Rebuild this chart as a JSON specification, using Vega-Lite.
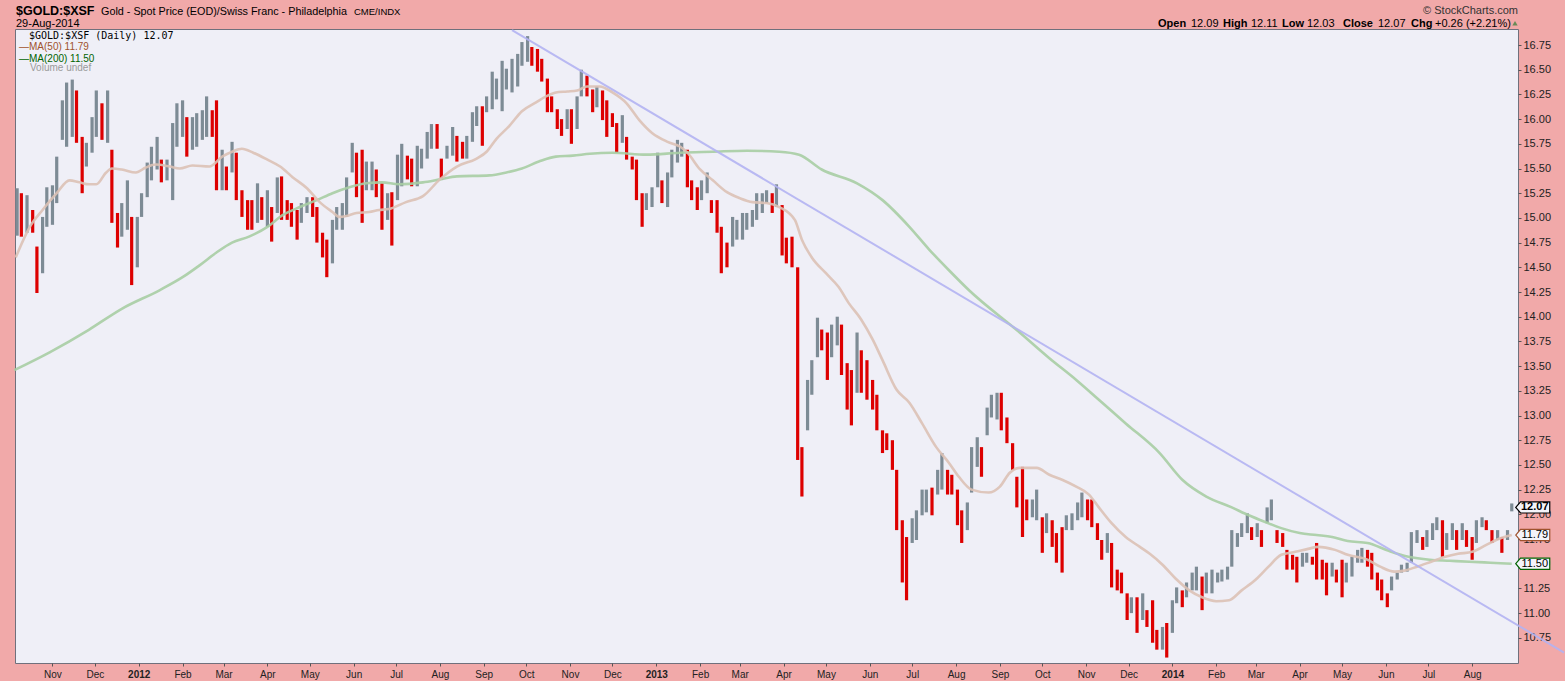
{
"$schema":"https://vega.github.io/schema/vega-lite/v6.json",
"width":1503,"height":634,
"autosize":{"type":"none"},
"padding":{"left":15,"top":29,"right":47,"bottom":18},
"background":"#F1A9A9",
"config":{"view":{"fill":"#EFEFF7","stroke":"#70707C","strokeWidth":1},"axis":{"labelOverlap":false},"axisY":{"labelOverlap":false,"tickCount":26},"text":{"font":"Liberation Sans","baseline":"alphabetic","align":"left","color":"#000"}},
"datasets":{
"px":[
{"d":"2011-10-07","lo":14.82,"hi":15.30,"c":15.06},{"d":"2011-10-10","lo":14.81,"hi":15.25,"c":15.03},{"d":"2011-10-14","lo":14.85,"hi":15.23,"c":15.04},{"d":"2011-10-18","lo":14.85,"hi":15.08,"c":14.96},{"d":"2011-10-21","lo":14.24,"hi":14.71,"c":14.47},{"d":"2011-10-25","lo":14.44,"hi":15.01,"c":14.72},{"d":"2011-10-28","lo":14.91,"hi":15.31,"c":15.11},{"d":"2011-11-01","lo":14.93,"hi":15.33,"c":15.13},{"d":"2011-11-04","lo":15.15,"hi":15.62,"c":15.38},{"d":"2011-11-08","lo":15.79,"hi":16.19,"c":15.99},
{"d":"2011-11-11","lo":15.72,"hi":16.37,"c":16.05},{"d":"2011-11-15","lo":15.82,"hi":16.40,"c":16.11},{"d":"2011-11-18","lo":15.76,"hi":16.29,"c":16.03},{"d":"2011-11-22","lo":15.25,"hi":15.82,"c":15.54},{"d":"2011-11-25","lo":15.52,"hi":15.76,"c":15.64},{"d":"2011-11-29","lo":15.66,"hi":16.02,"c":15.84},{"d":"2011-12-02","lo":15.82,"hi":16.29,"c":16.06},{"d":"2011-12-06","lo":15.79,"hi":16.16,"c":15.97},{"d":"2011-12-10","lo":15.76,"hi":16.29,"c":16.03},{"d":"2011-12-13","lo":14.95,"hi":15.69,"c":15.32},
{"d":"2011-12-17","lo":14.70,"hi":15.05,"c":14.87},{"d":"2011-12-20","lo":14.81,"hi":15.15,"c":14.98},{"d":"2011-12-24","lo":14.88,"hi":15.38,"c":15.13},{"d":"2011-12-27","lo":14.32,"hi":15.01,"c":14.66},{"d":"2011-12-31","lo":14.50,"hi":15.01,"c":14.75},{"d":"2012-01-03","lo":15.01,"hi":15.25,"c":15.13},{"d":"2012-01-07","lo":15.21,"hi":15.56,"c":15.38},{"d":"2012-01-10","lo":15.38,"hi":15.72,"c":15.55},{"d":"2012-01-14","lo":15.49,"hi":15.82,"c":15.66},{"d":"2012-01-17","lo":15.36,"hi":15.59,"c":15.47},
{"d":"2012-01-21","lo":15.38,"hi":15.59,"c":15.49},{"d":"2012-01-25","lo":15.18,"hi":15.96,"c":15.57},{"d":"2012-01-28","lo":15.72,"hi":16.16,"c":15.94},{"d":"2012-02-01","lo":15.82,"hi":16.19,"c":16.00},{"d":"2012-02-04","lo":15.62,"hi":16.02,"c":15.82},{"d":"2012-02-08","lo":15.69,"hi":16.02,"c":15.85},{"d":"2012-02-11","lo":15.72,"hi":16.06,"c":15.89},{"d":"2012-02-15","lo":15.79,"hi":16.09,"c":15.94},{"d":"2012-02-18","lo":15.82,"hi":16.23,"c":16.02},{"d":"2012-02-22","lo":15.82,"hi":16.09,"c":15.95},
{"d":"2012-02-25","lo":15.28,"hi":16.19,"c":15.35},{"d":"2012-02-29","lo":15.28,"hi":15.69,"c":15.48},{"d":"2012-03-03","lo":15.28,"hi":15.52,"c":15.40},{"d":"2012-03-07","lo":15.46,"hi":15.77,"c":15.61},{"d":"2012-03-10","lo":15.18,"hi":15.66,"c":15.42},{"d":"2012-03-14","lo":15.01,"hi":15.28,"c":15.14},{"d":"2012-03-18","lo":14.88,"hi":15.18,"c":15.03},{"d":"2012-03-21","lo":14.88,"hi":15.18,"c":15.02},{"d":"2012-03-25","lo":14.95,"hi":15.35,"c":15.15},{"d":"2012-03-28","lo":14.98,"hi":15.21,"c":15.09},
{"d":"2012-04-01","lo":14.91,"hi":15.28,"c":15.10},{"d":"2012-04-04","lo":14.76,"hi":15.11,"c":14.93},{"d":"2012-04-08","lo":15.05,"hi":15.41,"c":15.23},{"d":"2012-04-11","lo":14.98,"hi":15.42,"c":15.20},{"d":"2012-04-15","lo":14.98,"hi":15.18,"c":15.08},{"d":"2012-04-18","lo":14.91,"hi":15.15,"c":15.03},{"d":"2012-04-22","lo":14.78,"hi":15.08,"c":14.93},{"d":"2012-04-25","lo":14.95,"hi":15.15,"c":15.05},{"d":"2012-04-29","lo":15.05,"hi":15.21,"c":15.13},{"d":"2012-05-03","lo":15.01,"hi":15.21,"c":15.11},
{"d":"2012-05-06","lo":14.75,"hi":15.11,"c":14.93},{"d":"2012-05-10","lo":14.60,"hi":14.85,"c":14.72},{"d":"2012-05-13","lo":14.40,"hi":14.78,"c":14.59},{"d":"2012-05-17","lo":14.54,"hi":14.98,"c":14.76},{"d":"2012-05-20","lo":14.88,"hi":15.11,"c":14.99},{"d":"2012-05-24","lo":14.88,"hi":15.15,"c":15.01},{"d":"2012-05-27","lo":15.01,"hi":15.41,"c":15.21},{"d":"2012-05-31","lo":15.46,"hi":15.76,"c":15.61},{"d":"2012-06-03","lo":15.21,"hi":15.66,"c":15.43},{"d":"2012-06-07","lo":14.95,"hi":15.69,"c":15.32},
{"d":"2012-06-10","lo":15.28,"hi":15.57,"c":15.43},{"d":"2012-06-14","lo":15.28,"hi":15.57,"c":15.45},{"d":"2012-06-17","lo":15.21,"hi":15.49,"c":15.35},{"d":"2012-06-21","lo":14.88,"hi":15.35,"c":15.11},{"d":"2012-06-25","lo":14.98,"hi":15.25,"c":15.12},{"d":"2012-06-28","lo":14.72,"hi":15.26,"c":14.99},{"d":"2012-07-02","lo":15.18,"hi":15.64,"c":15.41},{"d":"2012-07-05","lo":15.32,"hi":15.75,"c":15.54},{"d":"2012-07-09","lo":15.39,"hi":15.63,"c":15.51},{"d":"2012-07-12","lo":15.32,"hi":15.60,"c":15.46},
{"d":"2012-07-16","lo":15.32,"hi":15.73,"c":15.53},{"d":"2012-07-19","lo":15.50,"hi":15.70,"c":15.60},{"d":"2012-07-23","lo":15.60,"hi":15.87,"c":15.74},{"d":"2012-07-26","lo":15.70,"hi":15.95,"c":15.83},{"d":"2012-07-30","lo":15.70,"hi":15.95,"c":15.80},{"d":"2012-08-02","lo":15.39,"hi":15.60,"c":15.49},{"d":"2012-08-06","lo":15.60,"hi":15.73,"c":15.66},{"d":"2012-08-10","lo":15.63,"hi":15.92,"c":15.78},{"d":"2012-08-13","lo":15.57,"hi":15.83,"c":15.70},{"d":"2012-08-17","lo":15.60,"hi":15.77,"c":15.68},
{"d":"2012-08-20","lo":15.60,"hi":15.83,"c":15.72},{"d":"2012-08-24","lo":15.77,"hi":16.07,"c":15.92},{"d":"2012-08-27","lo":15.93,"hi":16.13,"c":16.03},{"d":"2012-08-31","lo":15.73,"hi":16.13,"c":15.93},{"d":"2012-09-03","lo":16.07,"hi":16.23,"c":16.15},{"d":"2012-09-07","lo":16.10,"hi":16.48,"c":16.29},{"d":"2012-09-10","lo":16.20,"hi":16.41,"c":16.31},{"d":"2012-09-14","lo":16.08,"hi":16.59,"c":16.34},{"d":"2012-09-17","lo":16.30,"hi":16.51,"c":16.41},{"d":"2012-09-21","lo":16.27,"hi":16.61,"c":16.44},
{"d":"2012-09-25","lo":16.33,"hi":16.66,"c":16.50},{"d":"2012-09-28","lo":16.54,"hi":16.78,"c":16.66},{"d":"2012-10-02","lo":16.58,"hi":16.84,"c":16.71},{"d":"2012-10-05","lo":16.54,"hi":16.73,"c":16.64},{"d":"2012-10-09","lo":16.48,"hi":16.71,"c":16.60},{"d":"2012-10-12","lo":16.38,"hi":16.61,"c":16.49},{"d":"2012-10-16","lo":16.07,"hi":16.41,"c":16.24},{"d":"2012-10-19","lo":16.07,"hi":16.23,"c":16.15},{"d":"2012-10-23","lo":15.90,"hi":16.10,"c":16.00},{"d":"2012-10-26","lo":15.83,"hi":16.00,"c":15.91},
{"d":"2012-10-30","lo":15.90,"hi":16.10,"c":16.00},{"d":"2012-11-02","lo":15.75,"hi":16.10,"c":15.92},{"d":"2012-11-06","lo":15.90,"hi":16.23,"c":16.07},{"d":"2012-11-09","lo":16.23,"hi":16.50,"c":16.37},{"d":"2012-11-13","lo":16.23,"hi":16.44,"c":16.33},{"d":"2012-11-17","lo":16.07,"hi":16.30,"c":16.19},{"d":"2012-11-20","lo":16.12,"hi":16.33,"c":16.22},{"d":"2012-11-24","lo":15.99,"hi":16.29,"c":16.14},{"d":"2012-11-27","lo":15.82,"hi":16.19,"c":16.00},{"d":"2012-12-01","lo":15.92,"hi":16.06,"c":15.99},
{"d":"2012-12-04","lo":15.66,"hi":15.96,"c":15.80},{"d":"2012-12-08","lo":15.76,"hi":16.04,"c":15.90},{"d":"2012-12-11","lo":15.59,"hi":15.82,"c":15.70},{"d":"2012-12-15","lo":15.49,"hi":15.62,"c":15.55},{"d":"2012-12-18","lo":15.18,"hi":15.59,"c":15.38},{"d":"2012-12-22","lo":14.91,"hi":15.25,"c":15.08},{"d":"2012-12-25","lo":15.08,"hi":15.25,"c":15.16},{"d":"2012-12-29","lo":15.11,"hi":15.31,"c":15.21},{"d":"2013-01-02","lo":15.31,"hi":15.66,"c":15.48},{"d":"2013-01-05","lo":15.15,"hi":15.38,"c":15.26},
{"d":"2013-01-09","lo":15.11,"hi":15.46,"c":15.28},{"d":"2013-01-12","lo":15.41,"hi":15.69,"c":15.55},{"d":"2013-01-16","lo":15.56,"hi":15.79,"c":15.68},{"d":"2013-01-19","lo":15.62,"hi":15.76,"c":15.69},{"d":"2013-01-23","lo":15.31,"hi":15.69,"c":15.50},{"d":"2013-01-26","lo":15.18,"hi":15.38,"c":15.28},{"d":"2013-01-30","lo":15.08,"hi":15.31,"c":15.19},{"d":"2013-02-02","lo":15.18,"hi":15.38,"c":15.29},{"d":"2013-02-06","lo":15.25,"hi":15.46,"c":15.36},{"d":"2013-02-09","lo":15.05,"hi":15.18,"c":15.11},
{"d":"2013-02-13","lo":14.85,"hi":15.18,"c":15.01},{"d":"2013-02-16","lo":14.44,"hi":14.91,"c":14.68},{"d":"2013-02-20","lo":14.50,"hi":14.75,"c":14.62},{"d":"2013-02-24","lo":14.71,"hi":15.01,"c":14.86},{"d":"2013-02-27","lo":14.78,"hi":14.98,"c":14.88},{"d":"2013-03-03","lo":14.78,"hi":15.05,"c":14.92},{"d":"2013-03-06","lo":14.88,"hi":15.05,"c":14.96},{"d":"2013-03-10","lo":14.91,"hi":15.08,"c":15.00},{"d":"2013-03-13","lo":14.98,"hi":15.25,"c":15.12},{"d":"2013-03-17","lo":15.05,"hi":15.25,"c":15.15},
{"d":"2013-03-20","lo":15.15,"hi":15.28,"c":15.22},{"d":"2013-03-24","lo":15.05,"hi":15.25,"c":15.14},{"d":"2013-03-27","lo":15.11,"hi":15.34,"c":15.23},{"d":"2013-03-31","lo":14.62,"hi":15.13,"c":14.88},{"d":"2013-04-03","lo":14.54,"hi":14.80,"c":14.67},{"d":"2013-04-07","lo":14.50,"hi":14.81,"c":14.64},{"d":"2013-04-11","lo":12.55,"hi":14.50,"c":12.75},{"d":"2013-04-14","lo":12.18,"hi":12.68,"c":12.40},{"d":"2013-04-18","lo":12.85,"hi":13.36,"c":13.10},{"d":"2013-04-21","lo":13.21,"hi":13.56,"c":13.40},
{"d":"2013-04-25","lo":13.59,"hi":13.99,"c":13.80},{"d":"2013-04-28","lo":13.66,"hi":13.87,"c":13.76},{"d":"2013-05-02","lo":13.36,"hi":13.84,"c":13.60},{"d":"2013-05-05","lo":13.59,"hi":13.92,"c":13.76},{"d":"2013-05-09","lo":13.71,"hi":14.00,"c":13.86},{"d":"2013-05-12","lo":13.41,"hi":13.92,"c":13.66},{"d":"2013-05-16","lo":13.06,"hi":13.53,"c":13.30},{"d":"2013-05-19","lo":12.90,"hi":13.46,"c":13.18},{"d":"2013-05-23","lo":13.23,"hi":13.84,"c":13.53},{"d":"2013-05-26","lo":13.23,"hi":13.66,"c":13.45},
{"d":"2013-05-30","lo":13.16,"hi":13.56,"c":13.36},{"d":"2013-06-03","lo":13.06,"hi":13.36,"c":13.21},{"d":"2013-06-06","lo":12.85,"hi":13.21,"c":13.03},{"d":"2013-06-10","lo":12.62,"hi":12.85,"c":12.74},{"d":"2013-06-13","lo":12.65,"hi":12.82,"c":12.73},{"d":"2013-06-17","lo":12.45,"hi":12.75,"c":12.60},{"d":"2013-06-20","lo":11.84,"hi":12.45,"c":12.10},{"d":"2013-06-24","lo":11.31,"hi":11.94,"c":11.62},{"d":"2013-06-27","lo":11.13,"hi":11.77,"c":11.50},{"d":"2013-07-01","lo":11.71,"hi":11.96,"c":11.84},
{"d":"2013-07-04","lo":11.74,"hi":12.04,"c":11.88},{"d":"2013-07-08","lo":11.99,"hi":12.25,"c":12.12},{"d":"2013-07-11","lo":12.02,"hi":12.25,"c":12.14},{"d":"2013-07-15","lo":11.99,"hi":12.27,"c":12.12},{"d":"2013-07-19","lo":12.20,"hi":12.45,"c":12.33},{"d":"2013-07-22","lo":12.25,"hi":12.62,"c":12.44},{"d":"2013-07-26","lo":12.20,"hi":12.45,"c":12.32},{"d":"2013-07-29","lo":12.20,"hi":12.40,"c":12.30},{"d":"2013-08-02","lo":11.89,"hi":12.25,"c":12.07},{"d":"2013-08-05","lo":11.71,"hi":12.04,"c":11.87},
{"d":"2013-08-09","lo":11.84,"hi":12.12,"c":11.98},{"d":"2013-08-12","lo":12.22,"hi":12.68,"c":12.45},{"d":"2013-08-16","lo":12.48,"hi":12.78,"c":12.63},{"d":"2013-08-19","lo":12.38,"hi":12.68,"c":12.53},{"d":"2013-08-23","lo":12.80,"hi":13.08,"c":12.94},{"d":"2013-08-26","lo":12.98,"hi":13.21,"c":13.10},{"d":"2013-08-30","lo":12.96,"hi":13.23,"c":13.12},{"d":"2013-09-02","lo":12.85,"hi":13.23,"c":13.03},{"d":"2013-09-06","lo":12.72,"hi":12.98,"c":12.85},{"d":"2013-09-10","lo":12.45,"hi":12.72,"c":12.58},
{"d":"2013-09-13","lo":12.07,"hi":12.38,"c":12.22},{"d":"2013-09-17","lo":11.77,"hi":12.48,"c":12.12},{"d":"2013-09-20","lo":11.94,"hi":12.15,"c":12.05},{"d":"2013-09-24","lo":11.97,"hi":12.15,"c":12.07},{"d":"2013-09-27","lo":11.94,"hi":12.25,"c":12.10},{"d":"2013-10-01","lo":11.61,"hi":11.97,"c":11.79},{"d":"2013-10-04","lo":11.81,"hi":12.01,"c":11.91},{"d":"2013-10-08","lo":11.67,"hi":11.94,"c":11.80},{"d":"2013-10-11","lo":11.51,"hi":11.81,"c":11.66},{"d":"2013-10-15","lo":11.41,"hi":11.87,"c":11.62},
{"d":"2013-10-18","lo":11.84,"hi":11.99,"c":11.92},{"d":"2013-10-22","lo":11.84,"hi":12.01,"c":11.93},{"d":"2013-10-26","lo":11.94,"hi":12.12,"c":12.03},{"d":"2013-10-29","lo":11.97,"hi":12.22,"c":12.10},{"d":"2013-11-02","lo":11.94,"hi":12.15,"c":12.04},{"d":"2013-11-05","lo":11.87,"hi":12.15,"c":12.00},{"d":"2013-11-09","lo":11.74,"hi":11.91,"c":11.82},{"d":"2013-11-12","lo":11.54,"hi":11.74,"c":11.63},{"d":"2013-11-16","lo":11.61,"hi":11.81,"c":11.71},{"d":"2013-11-19","lo":11.26,"hi":11.71,"c":11.45},
{"d":"2013-11-23","lo":11.23,"hi":11.44,"c":11.34},{"d":"2013-11-26","lo":11.20,"hi":11.41,"c":11.31},{"d":"2013-11-30","lo":10.93,"hi":11.20,"c":11.06},{"d":"2013-12-03","lo":11.00,"hi":11.16,"c":11.08},{"d":"2013-12-07","lo":10.80,"hi":11.16,"c":10.97},{"d":"2013-12-11","lo":10.93,"hi":11.20,"c":11.08},{"d":"2013-12-14","lo":10.86,"hi":11.03,"c":10.94},{"d":"2013-12-18","lo":10.70,"hi":11.13,"c":10.90},{"d":"2013-12-21","lo":10.63,"hi":10.83,"c":10.72},{"d":"2013-12-25","lo":10.63,"hi":10.86,"c":10.74},
{"d":"2013-12-28","lo":10.55,"hi":10.90,"c":10.70},{"d":"2014-01-01","lo":10.80,"hi":11.13,"c":10.98},{"d":"2014-01-04","lo":11.10,"hi":11.26,"c":11.18},{"d":"2014-01-08","lo":11.06,"hi":11.23,"c":11.14},{"d":"2014-01-11","lo":11.16,"hi":11.31,"c":11.24},{"d":"2014-01-15","lo":11.23,"hi":11.41,"c":11.32},{"d":"2014-01-18","lo":11.23,"hi":11.47,"c":11.36},{"d":"2014-01-22","lo":11.03,"hi":11.37,"c":11.20},{"d":"2014-01-25","lo":11.20,"hi":11.41,"c":11.30},{"d":"2014-01-29","lo":11.20,"hi":11.44,"c":11.33},
{"d":"2014-02-02","lo":11.31,"hi":11.41,"c":11.36},{"d":"2014-02-05","lo":11.32,"hi":11.44,"c":11.38},{"d":"2014-02-09","lo":11.34,"hi":11.47,"c":11.40},{"d":"2014-02-12","lo":11.47,"hi":11.84,"c":11.66},{"d":"2014-02-16","lo":11.67,"hi":11.81,"c":11.74},{"d":"2014-02-19","lo":11.77,"hi":11.91,"c":11.84},{"d":"2014-02-23","lo":11.81,"hi":12.01,"c":11.91},{"d":"2014-02-26","lo":11.74,"hi":11.87,"c":11.80},{"d":"2014-03-02","lo":11.77,"hi":11.91,"c":11.85},{"d":"2014-03-05","lo":11.67,"hi":11.84,"c":11.75},
{"d":"2014-03-09","lo":11.91,"hi":12.07,"c":11.99},{"d":"2014-03-12","lo":11.94,"hi":12.15,"c":12.04},{"d":"2014-03-16","lo":11.71,"hi":11.84,"c":11.77},{"d":"2014-03-20","lo":11.67,"hi":11.81,"c":11.74},{"d":"2014-03-23","lo":11.44,"hi":11.64,"c":11.54},{"d":"2014-03-27","lo":11.44,"hi":11.59,"c":11.51},{"d":"2014-03-30","lo":11.31,"hi":11.57,"c":11.44},{"d":"2014-04-03","lo":11.47,"hi":11.61,"c":11.54},{"d":"2014-04-06","lo":11.51,"hi":11.61,"c":11.56},{"d":"2014-04-10","lo":11.49,"hi":11.57,"c":11.53},
{"d":"2014-04-13","lo":11.34,"hi":11.71,"c":11.52},{"d":"2014-04-17","lo":11.34,"hi":11.54,"c":11.44},{"d":"2014-04-20","lo":11.18,"hi":11.51,"c":11.35},{"d":"2014-04-24","lo":11.37,"hi":11.51,"c":11.45},{"d":"2014-04-27","lo":11.31,"hi":11.44,"c":11.37},{"d":"2014-05-01","lo":11.16,"hi":11.54,"c":11.34},{"d":"2014-05-04","lo":11.31,"hi":11.51,"c":11.41},{"d":"2014-05-08","lo":11.37,"hi":11.57,"c":11.47},{"d":"2014-05-12","lo":11.51,"hi":11.64,"c":11.58},{"d":"2014-05-15","lo":11.51,"hi":11.66,"c":11.59},
{"d":"2014-05-19","lo":11.47,"hi":11.64,"c":11.56},{"d":"2014-05-22","lo":11.34,"hi":11.61,"c":11.45},{"d":"2014-05-26","lo":11.23,"hi":11.41,"c":11.32},{"d":"2014-05-29","lo":11.13,"hi":11.34,"c":11.22},{"d":"2014-06-02","lo":11.06,"hi":11.20,"c":11.13},{"d":"2014-06-05","lo":11.23,"hi":11.37,"c":11.30},{"d":"2014-06-09","lo":11.34,"hi":11.41,"c":11.38},{"d":"2014-06-12","lo":11.41,"hi":11.49,"c":11.45},{"d":"2014-06-16","lo":11.42,"hi":11.51,"c":11.46},{"d":"2014-06-19","lo":11.51,"hi":11.82,"c":11.74},
{"d":"2014-06-23","lo":11.71,"hi":11.84,"c":11.78},{"d":"2014-06-27","lo":11.64,"hi":11.77,"c":11.70},{"d":"2014-06-30","lo":11.67,"hi":11.84,"c":11.76},{"d":"2014-07-04","lo":11.74,"hi":11.91,"c":11.83},{"d":"2014-07-07","lo":11.84,"hi":11.97,"c":11.90},{"d":"2014-07-11","lo":11.57,"hi":11.94,"c":11.70},{"d":"2014-07-14","lo":11.64,"hi":11.81,"c":11.73},{"d":"2014-07-18","lo":11.74,"hi":11.91,"c":11.83},{"d":"2014-07-21","lo":11.64,"hi":11.84,"c":11.75},{"d":"2014-07-25","lo":11.74,"hi":11.91,"c":11.82},
{"d":"2014-07-28","lo":11.67,"hi":11.84,"c":11.76},{"d":"2014-08-01","lo":11.54,"hi":11.77,"c":11.62},{"d":"2014-08-04","lo":11.71,"hi":11.94,"c":11.85},{"d":"2014-08-08","lo":11.87,"hi":11.97,"c":11.93},{"d":"2014-08-11","lo":11.84,"hi":11.94,"c":11.89},{"d":"2014-08-15","lo":11.71,"hi":11.84,"c":11.78},{"d":"2014-08-19","lo":11.74,"hi":11.84,"c":11.79},{"d":"2014-08-22","lo":11.61,"hi":11.77,"c":11.70},{"d":"2014-08-26","lo":11.74,"hi":11.84,"c":11.81},{"d":"2014-08-29","lo":12.03,"hi":12.11,"c":12.07}
],
"ma50":[
{"d":"2011-10-06","v":14.60},{"d":"2011-10-16","v":14.91},{"d":"2011-10-25","v":15.08},{"d":"2011-11-04","v":15.25},{"d":"2011-11-13","v":15.38},{"d":"2011-11-20","v":15.36},{"d":"2011-11-27","v":15.34},{"d":"2011-12-02","v":15.34},{"d":"2011-12-09","v":15.46},{"d":"2011-12-13","v":15.50},{"d":"2011-12-20","v":15.49},{"d":"2011-12-30","v":15.46},{"d":"2012-01-06","v":15.51},{"d":"2012-01-13","v":15.54},{"d":"2012-01-23","v":15.52},{"d":"2012-01-30","v":15.50},{"d":"2012-02-08","v":15.53},{"d":"2012-02-20","v":15.52},{"d":"2012-02-29","v":15.62},{"d":"2012-03-07","v":15.67},{"d":"2012-03-14","v":15.70},{"d":"2012-03-22","v":15.66},{"d":"2012-04-01","v":15.59},{"d":"2012-04-10","v":15.52},{"d":"2012-04-19","v":15.41},{"d":"2012-04-29","v":15.30},{"d":"2012-05-08","v":15.16},{"d":"2012-05-17","v":15.06},{"d":"2012-05-22","v":15.01},{"d":"2012-05-27","v":15.02},{"d":"2012-06-03","v":15.05},{"d":"2012-06-12","v":15.06},{"d":"2012-06-19","v":15.08},{"d":"2012-06-26","v":15.09},{"d":"2012-07-08","v":15.16},{"d":"2012-07-20","v":15.22},{"d":"2012-08-01","v":15.39},{"d":"2012-08-13","v":15.52},{"d":"2012-08-27","v":15.60},{"d":"2012-09-03","v":15.67},{"d":"2012-09-10","v":15.80},{"d":"2012-09-19","v":15.93},{"d":"2012-09-28","v":16.08},{"d":"2012-10-08","v":16.17},{"d":"2012-10-15","v":16.23},{"d":"2012-10-22","v":16.27},{"d":"2012-10-30","v":16.28},{"d":"2012-11-06","v":16.29},{"d":"2012-11-13","v":16.33},{"d":"2012-11-22","v":16.33},{"d":"2012-12-01","v":16.27},{"d":"2012-12-11","v":16.16},{"d":"2012-12-20","v":15.99},{"d":"2012-12-29","v":15.86},{"d":"2013-01-09","v":15.77},{"d":"2013-01-18","v":15.72},{"d":"2013-01-23","v":15.66},{"d":"2013-02-01","v":15.49},{"d":"2013-02-10","v":15.38},{"d":"2013-02-20","v":15.26},{"d":"2013-03-01","v":15.20},{"d":"2013-03-10","v":15.16},{"d":"2013-03-20","v":15.15},{"d":"2013-03-29","v":15.11},{"d":"2013-04-09","v":14.98},{"d":"2013-04-14","v":14.78},{"d":"2013-04-21","v":14.60},{"d":"2013-05-01","v":14.44},{"d":"2013-05-10","v":14.30},{"d":"2013-05-17","v":14.14},{"d":"2013-05-26","v":13.97},{"d":"2013-06-03","v":13.77},{"d":"2013-06-10","v":13.56},{"d":"2013-06-20","v":13.26},{"d":"2013-06-29","v":13.13},{"d":"2013-07-08","v":12.92},{"d":"2013-07-18","v":12.68},{"d":"2013-07-27","v":12.52},{"d":"2013-08-03","v":12.38},{"d":"2013-08-12","v":12.25},{"d":"2013-08-24","v":12.22},{"d":"2013-09-01","v":12.28},{"d":"2013-09-08","v":12.42},{"d":"2013-09-15","v":12.47},{"d":"2013-09-27","v":12.47},{"d":"2013-10-06","v":12.40},{"d":"2013-10-15","v":12.35},{"d":"2013-10-25","v":12.28},{"d":"2013-11-03","v":12.20},{"d":"2013-11-10","v":12.07},{"d":"2013-11-19","v":11.91},{"d":"2013-11-29","v":11.77},{"d":"2013-12-09","v":11.67},{"d":"2013-12-16","v":11.60},{"d":"2013-12-25","v":11.49},{"d":"2014-01-04","v":11.34},{"d":"2014-01-13","v":11.23},{"d":"2014-01-22","v":11.16},{"d":"2014-02-01","v":11.12},{"d":"2014-02-10","v":11.13},{"d":"2014-02-19","v":11.23},{"d":"2014-03-01","v":11.34},{"d":"2014-03-10","v":11.47},{"d":"2014-03-19","v":11.59},{"d":"2014-03-29","v":11.62},{"d":"2014-04-07","v":11.65},{"d":"2014-04-14","v":11.67},{"d":"2014-04-26","v":11.64},{"d":"2014-05-05","v":11.59},{"d":"2014-05-19","v":11.54},{"d":"2014-05-28","v":11.47},{"d":"2014-06-07","v":11.42},{"d":"2014-06-14","v":11.43},{"d":"2014-06-23","v":11.47},{"d":"2014-07-03","v":11.52},{"d":"2014-07-13","v":11.57},{"d":"2014-07-22","v":11.60},{"d":"2014-08-01","v":11.62},{"d":"2014-08-11","v":11.69},{"d":"2014-08-18","v":11.74},{"d":"2014-08-29","v":11.79}
],
"ma200":[
{"d":"2011-10-05","v":13.46},{"d":"2011-10-30","v":13.64},{"d":"2011-11-27","v":13.87},{"d":"2011-12-20","v":14.08},{"d":"2012-01-16","v":14.27},{"d":"2012-02-01","v":14.40},{"d":"2012-02-13","v":14.52},{"d":"2012-02-25","v":14.65},{"d":"2012-03-07","v":14.75},{"d":"2012-03-19","v":14.81},{"d":"2012-04-01","v":14.91},{"d":"2012-04-12","v":15.03},{"d":"2012-04-24","v":15.11},{"d":"2012-05-06","v":15.18},{"d":"2012-05-17","v":15.25},{"d":"2012-05-29","v":15.31},{"d":"2012-06-10","v":15.35},{"d":"2012-06-21","v":15.36},{"d":"2012-07-03","v":15.34},{"d":"2012-07-20","v":15.36},{"d":"2012-08-01","v":15.39},{"d":"2012-08-13","v":15.42},{"d":"2012-09-05","v":15.43},{"d":"2012-09-17","v":15.46},{"d":"2012-09-28","v":15.50},{"d":"2012-10-10","v":15.57},{"d":"2012-10-22","v":15.62},{"d":"2012-11-03","v":15.63},{"d":"2012-11-15","v":15.65},{"d":"2012-12-01","v":15.66},{"d":"2012-12-25","v":15.64},{"d":"2013-01-18","v":15.66},{"d":"2013-02-10","v":15.67},{"d":"2013-03-06","v":15.68},{"d":"2013-03-29","v":15.67},{"d":"2013-04-12","v":15.64},{"d":"2013-04-28","v":15.49},{"d":"2013-05-23","v":15.35},{"d":"2013-06-10","v":15.18},{"d":"2013-06-29","v":14.91},{"d":"2013-07-13","v":14.68},{"d":"2013-07-27","v":14.47},{"d":"2013-08-10","v":14.27},{"d":"2013-09-15","v":13.84},{"d":"2013-10-06","v":13.58},{"d":"2013-10-25","v":13.36},{"d":"2013-11-10","v":13.16},{"d":"2013-11-29","v":12.92},{"d":"2013-12-23","v":12.62},{"d":"2014-01-08","v":12.35},{"d":"2014-01-25","v":12.18},{"d":"2014-02-12","v":12.07},{"d":"2014-02-24","v":11.99},{"d":"2014-03-08","v":11.92},{"d":"2014-03-19","v":11.86},{"d":"2014-04-01","v":11.81},{"d":"2014-04-13","v":11.79},{"d":"2014-04-24","v":11.77},{"d":"2014-05-05","v":11.73},{"d":"2014-05-19","v":11.71},{"d":"2014-06-03","v":11.63},{"d":"2014-06-17","v":11.57},{"d":"2014-07-02","v":11.54},{"d":"2014-07-16","v":11.53},{"d":"2014-07-30","v":11.52},{"d":"2014-08-14","v":11.51},{"d":"2014-08-29","v":11.50}
],
"trend":[{"d":"2012-09-21","v":16.9},{"d":"2014-10-05","v":10.6}],
"tags":[{"d":"2014-08-29","v":12.07,"t":"12.07","k":"close"},{"d":"2014-08-29","v":11.79,"t":"11.79","k":"ma50"},{"d":"2014-08-29","v":11.50,"t":"11.50","k":"ma200"}],
"one":[{}]
},
"layer":[
{"data":{"name":"px"},
 "transform":[{"window":[{"op":"lag","field":"c","as":"pc"}],"sort":[{"field":"d","order":"ascending"}]}],
 "mark":{"type":"rule","strokeWidth":3.2},
 "encoding":{
  "x":{"field":"d","type":"temporal","title":null,"scale":{"type":"utc","domain":[{"year":2011,"month":10,"date":5,"hours":12,"utc":true},{"year":2014,"month":9,"date":2,"hours":10,"utc":true}]},
   "axis":{"orient":"bottom","title":null,"grid":false,"domain":false,"tickColor":"#555","tickSize":3,"labelPadding":3,"labelFont":"Liberation Sans","labelFontSize":10,"labelColor":"#222","labelOverlap":false,"labelFlush":false,
    "labelExpr":"utcmonth(datum.value)===0 ? utcFormat(datum.value,'%Y') : utcFormat(datum.value,'%b')",
    "labelFontWeight":{"condition":{"test":"utcmonth(datum.value)===0","value":"bold"},"value":"normal"},
    "values":[{"year":2011,"month":11,"date":1,"utc":true},{"year":2011,"month":12,"date":1,"utc":true},{"year":2012,"month":1,"date":1,"utc":true},{"year":2012,"month":2,"date":1,"utc":true},{"year":2012,"month":3,"date":1,"utc":true},{"year":2012,"month":4,"date":1,"utc":true},{"year":2012,"month":5,"date":1,"utc":true},{"year":2012,"month":6,"date":1,"utc":true},{"year":2012,"month":7,"date":1,"utc":true},{"year":2012,"month":8,"date":1,"utc":true},{"year":2012,"month":9,"date":1,"utc":true},{"year":2012,"month":10,"date":1,"utc":true},{"year":2012,"month":11,"date":1,"utc":true},{"year":2012,"month":12,"date":1,"utc":true},{"year":2013,"month":1,"date":1,"utc":true},{"year":2013,"month":2,"date":1,"utc":true},{"year":2013,"month":3,"date":1,"utc":true},{"year":2013,"month":4,"date":1,"utc":true},{"year":2013,"month":5,"date":1,"utc":true},{"year":2013,"month":6,"date":1,"utc":true},{"year":2013,"month":7,"date":1,"utc":true},{"year":2013,"month":8,"date":1,"utc":true},{"year":2013,"month":9,"date":1,"utc":true},{"year":2013,"month":10,"date":1,"utc":true},{"year":2013,"month":11,"date":1,"utc":true},{"year":2013,"month":12,"date":1,"utc":true},{"year":2014,"month":1,"date":1,"utc":true},{"year":2014,"month":2,"date":1,"utc":true},{"year":2014,"month":3,"date":1,"utc":true},{"year":2014,"month":4,"date":1,"utc":true},{"year":2014,"month":5,"date":1,"utc":true},{"year":2014,"month":6,"date":1,"utc":true},{"year":2014,"month":7,"date":1,"utc":true},{"year":2014,"month":8,"date":1,"utc":true}]}},
  "y":{"field":"lo","type":"quantitative","title":null,"scale":{"domain":[10.495,16.912],"nice":false,"zero":false},
   "axis":{"orient":"right","title":null,"grid":false,"domain":false,"format":".2f","tickColor":"#555","tickSize":3,"labelPadding":2,"labelFont":"Liberation Sans","labelFontSize":11,"labelColor":"#222","labelOverlap":false,"labelFlush":false,"tickCount":26,
    "values":[10.75,11,11.25,11.5,11.75,12,12.25,12.5,12.75,13,13.25,13.5,13.75,14,14.25,14.5,14.75,15,15.25,15.5,15.75,16,16.25,16.5,16.75]}},
  "y2":{"field":"hi"},
  "color":{"condition":{"test":"datum.pc != null && datum.c < datum.pc","value":"#DD0000"},"value":"#7D8B95"}}},
{"data":{"name":"ma200"},"mark":{"type":"line","color":"#A7CDA3","strokeWidth":2.6,"interpolate":"monotone","opacity":0.9},
 "encoding":{"x":{"field":"d","type":"temporal","title":null},"y":{"field":"v","type":"quantitative","title":null}}},
{"data":{"name":"ma50"},"mark":{"type":"line","color":"#DCC1B5","strokeWidth":2.6,"interpolate":"monotone","opacity":0.9},
 "encoding":{"x":{"field":"d","type":"temporal","title":null},"y":{"field":"v","type":"quantitative","title":null}}},
{"data":{"name":"trend"},"mark":{"type":"line","color":"#B3B3F2","strokeWidth":2,"opacity":0.9},
 "encoding":{"x":{"field":"d","type":"temporal","title":null},"y":{"field":"v","type":"quantitative","title":null}}},
{"data":{"name":"tags"},"mark":{"type":"point","shape":"M-1,0L-0.72,-0.33L1,-0.33L1,0.33L-0.72,0.33Z","size":1156,"filled":true,"fill":"#F4F4FA","strokeWidth":1.2,"opacity":1,"xOffset":21},
 "encoding":{"x":{"field":"d","type":"temporal","title":null},"y":{"field":"v","type":"quantitative","title":null},
 "stroke":{"field":"k","type":"nominal","legend":null,"scale":{"domain":["close","ma50","ma200"],"range":["#000000","#A0522D","#006400"]}}}},
{"data":{"name":"tags"},"transform":[{"filter":"datum.k != 'close'"}],"mark":{"type":"text","align":"center","baseline":"middle","dx":23,"fontSize":11},
 "encoding":{"x":{"field":"d","type":"temporal","title":null},"y":{"field":"v","type":"quantitative","title":null},"text":{"field":"t"}}},
{"data":{"name":"tags"},"transform":[{"filter":"datum.k == 'close'"}],"mark":{"type":"text","align":"center","baseline":"middle","dx":23,"fontSize":11,"fontWeight":"bold"},
 "encoding":{"x":{"field":"d","type":"temporal","title":null},"y":{"field":"v","type":"quantitative","title":null},"text":{"field":"t"}}},
{"data":{"name":"one"},"mark":{"type":"text","text":"$GOLD:$XSF","dx":1,"fontSize":12.5,"fontWeight":"bold"},
 "encoding":{"x":{"datum":{"year":2011,"month":10,"date":5,"hours":12,"utc":true},"type":"temporal","title":null},"y":{"datum":17.054,"type":"quantitative","title":null}}},
{"data":{"name":"one"},"mark":{"type":"text","text":"Gold - Spot Price (EOD)/Swiss Franc - Philadelphia","dx":86,"fontSize":10.8},
 "encoding":{"x":{"datum":{"year":2011,"month":10,"date":5,"hours":12,"utc":true},"type":"temporal","title":null},"y":{"datum":17.054,"type":"quantitative","title":null}}},
{"data":{"name":"one"},"mark":{"type":"text","text":"CME/INDX","dx":339,"fontSize":9.5},
 "encoding":{"x":{"datum":{"year":2011,"month":10,"date":5,"hours":12,"utc":true},"type":"temporal","title":null},"y":{"datum":17.054,"type":"quantitative","title":null}}},
{"data":{"name":"one"},"mark":{"type":"text","text":"29-Aug-2014","dx":1,"fontSize":11},
 "encoding":{"x":{"datum":{"year":2011,"month":10,"date":5,"hours":12,"utc":true},"type":"temporal","title":null},"y":{"datum":16.937,"type":"quantitative","title":null}}},
{"data":{"name":"one"},"mark":{"type":"text","text":"$GOLD:$XSF (Daily) 12.07","dx":14,"fontSize":10,"font":"DejaVu Sans Mono"},
 "encoding":{"x":{"datum":{"year":2011,"month":10,"date":5,"hours":12,"utc":true},"type":"temporal","title":null},"y":{"datum":16.811,"type":"quantitative","title":null}}},
{"data":{"name":"one"},"mark":{"type":"text","text":"—MA(50) 11.79","dx":4,"fontSize":10,"color":"#A0522D"},
 "encoding":{"x":{"datum":{"year":2011,"month":10,"date":5,"hours":12,"utc":true},"type":"temporal","title":null},"y":{"datum":16.699,"type":"quantitative","title":null}}},
{"data":{"name":"one"},"mark":{"type":"text","text":"—MA(200) 11.50","dx":4,"fontSize":10,"color":"#006400"},
 "encoding":{"x":{"datum":{"year":2011,"month":10,"date":5,"hours":12,"utc":true},"type":"temporal","title":null},"y":{"datum":16.583,"type":"quantitative","title":null}}},
{"data":{"name":"one"},"mark":{"type":"text","text":"Volume undef","dx":15,"fontSize":10,"color":"#9A9A9A"},
 "encoding":{"x":{"datum":{"year":2011,"month":10,"date":5,"hours":12,"utc":true},"type":"temporal","title":null},"y":{"datum":16.482,"type":"quantitative","title":null}}},
{"data":{"name":"one"},"mark":{"type":"text","text":"© StockCharts.com","align":"right","dx":0,"fontSize":11,"color":"#333"},
 "encoding":{"x":{"datum":{"year":2014,"month":9,"date":2,"hours":10,"utc":true},"type":"temporal","title":null},"y":{"datum":17.064,"type":"quantitative","title":null}}},
{"data":{"name":"one"},"mark":{"type":"text","text":"Open","dx":-360,"fontSize":11,"fontWeight":"bold"},
 "encoding":{"x":{"datum":{"year":2014,"month":9,"date":2,"hours":10,"utc":true},"type":"temporal","title":null},"y":{"datum":16.932,"type":"quantitative","title":null}}},
{"data":{"name":"one"},"mark":{"type":"text","text":"12.09","dx":-327,"fontSize":11},
 "encoding":{"x":{"datum":{"year":2014,"month":9,"date":2,"hours":10,"utc":true},"type":"temporal","title":null},"y":{"datum":16.932,"type":"quantitative","title":null}}},
{"data":{"name":"one"},"mark":{"type":"text","text":"High","dx":-295,"fontSize":11,"fontWeight":"bold"},
 "encoding":{"x":{"datum":{"year":2014,"month":9,"date":2,"hours":10,"utc":true},"type":"temporal","title":null},"y":{"datum":16.932,"type":"quantitative","title":null}}},
{"data":{"name":"one"},"mark":{"type":"text","text":"12.11","dx":-267,"fontSize":11},
 "encoding":{"x":{"datum":{"year":2014,"month":9,"date":2,"hours":10,"utc":true},"type":"temporal","title":null},"y":{"datum":16.932,"type":"quantitative","title":null}}},
{"data":{"name":"one"},"mark":{"type":"text","text":"Low","dx":-236,"fontSize":11,"fontWeight":"bold"},
 "encoding":{"x":{"datum":{"year":2014,"month":9,"date":2,"hours":10,"utc":true},"type":"temporal","title":null},"y":{"datum":16.932,"type":"quantitative","title":null}}},
{"data":{"name":"one"},"mark":{"type":"text","text":"12.03","dx":-211,"fontSize":11},
 "encoding":{"x":{"datum":{"year":2014,"month":9,"date":2,"hours":10,"utc":true},"type":"temporal","title":null},"y":{"datum":16.932,"type":"quantitative","title":null}}},
{"data":{"name":"one"},"mark":{"type":"text","text":"Close","dx":-175,"fontSize":11,"fontWeight":"bold"},
 "encoding":{"x":{"datum":{"year":2014,"month":9,"date":2,"hours":10,"utc":true},"type":"temporal","title":null},"y":{"datum":16.932,"type":"quantitative","title":null}}},
{"data":{"name":"one"},"mark":{"type":"text","text":"12.07","dx":-140,"fontSize":11},
 "encoding":{"x":{"datum":{"year":2014,"month":9,"date":2,"hours":10,"utc":true},"type":"temporal","title":null},"y":{"datum":16.932,"type":"quantitative","title":null}}},
{"data":{"name":"one"},"mark":{"type":"text","text":"Chg","dx":-107,"fontSize":11,"fontWeight":"bold"},
 "encoding":{"x":{"datum":{"year":2014,"month":9,"date":2,"hours":10,"utc":true},"type":"temporal","title":null},"y":{"datum":16.932,"type":"quantitative","title":null}}},
{"data":{"name":"one"},"mark":{"type":"text","text":"+0.26 (+2.21%)","dx":-83,"fontSize":11},
 "encoding":{"x":{"datum":{"year":2014,"month":9,"date":2,"hours":10,"utc":true},"type":"temporal","title":null},"y":{"datum":16.932,"type":"quantitative","title":null}}},
{"data":{"name":"one"},"mark":{"type":"point","shape":"triangle-up","size":28,"filled":true,"color":"#2E7D32","xOffset":-3},
 "encoding":{"x":{"datum":{"year":2014,"month":9,"date":2,"hours":10,"utc":true},"type":"temporal","title":null},"y":{"datum":16.97,"type":"quantitative","title":null}}}
]
}
